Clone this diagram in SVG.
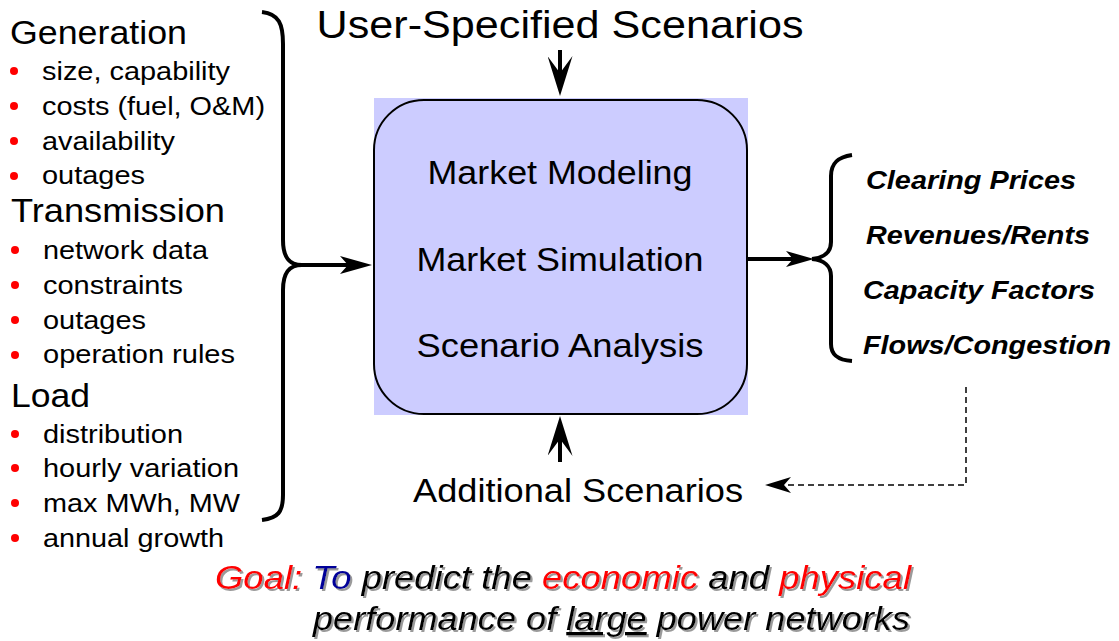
<svg xmlns="http://www.w3.org/2000/svg" width="1119" height="641" viewBox="0 0 1119 641">
<style>
text{font-family:"Liberation Sans",Arial,sans-serif;fill:#000}
.h{font-size:33px}
.it{font-size:25px}
.bx{font-size:33px}
.out{font-size:25px;font-weight:bold;font-style:italic}
.goal{font-size:33px;font-style:italic}
.red{fill:#ff0000}
.blue{fill:#000099}
.bul{fill:#ff0000}
.ln{fill:none;stroke:#000;stroke-width:4}
</style>
<defs>
<marker id="ah" viewBox="0 0 32 18" refX="8" refY="9" markerWidth="32" markerHeight="18" markerUnits="userSpaceOnUse" orient="auto"><path d="M0,0 L32,9 L0,18 L8,9 Z" fill="#000"/></marker>
<marker id="ahr" viewBox="0 0 28 16" refX="7" refY="8" markerWidth="28" markerHeight="16" markerUnits="userSpaceOnUse" orient="auto"><path d="M0,0 L28,8 L0,16 L7,8 Z" fill="#000"/></marker>
<marker id="av" viewBox="0 0 40 25" refX="17" refY="12.5" markerWidth="40" markerHeight="25" markerUnits="userSpaceOnUse" orient="auto"><path d="M0,0 L40,12.5 L0,25 L17,12.5 Z" fill="#000"/></marker>
<marker id="ad" viewBox="0 0 26 16" refX="7" refY="8" markerWidth="26" markerHeight="16" markerUnits="userSpaceOnUse" orient="auto"><path d="M0,0 L26,8 L0,16 L7,8 Z" fill="#000"/></marker>
<filter id="sh" x="-5%" y="-20%" width="110%" height="140%"><feDropShadow dx="2" dy="2" stdDeviation="0.4" flood-color="#9a9a9a" flood-opacity="1"/></filter>
</defs>

<g id="inputs">
<text class="h" x="10" y="44" textLength="177" lengthAdjust="spacingAndGlyphs">Generation</text>
<circle class="bul" cx="14" cy="71" r="4"/><text class="it" x="42" y="80" textLength="188" lengthAdjust="spacingAndGlyphs">size, capability</text>
<circle class="bul" cx="14" cy="106" r="4"/><text class="it" x="42" y="115" textLength="223" lengthAdjust="spacingAndGlyphs">costs (fuel, O&amp;M)</text>
<circle class="bul" cx="14" cy="141" r="4"/><text class="it" x="42" y="150" textLength="133" lengthAdjust="spacingAndGlyphs">availability</text>
<circle class="bul" cx="14" cy="176" r="4"/><text class="it" x="42" y="184" textLength="103" lengthAdjust="spacingAndGlyphs">outages</text>
<text class="h" x="11" y="222" textLength="214" lengthAdjust="spacingAndGlyphs">Transmission</text>
<circle class="bul" cx="15" cy="250" r="4"/><text class="it" x="43" y="259" textLength="165" lengthAdjust="spacingAndGlyphs">network data</text>
<circle class="bul" cx="15" cy="285" r="4"/><text class="it" x="43" y="294" textLength="140" lengthAdjust="spacingAndGlyphs">constraints</text>
<circle class="bul" cx="15" cy="320" r="4"/><text class="it" x="43" y="329" textLength="103" lengthAdjust="spacingAndGlyphs">outages</text>
<circle class="bul" cx="15" cy="355" r="4"/><text class="it" x="43" y="363" textLength="192" lengthAdjust="spacingAndGlyphs">operation rules</text>
<text class="h" x="11" y="407" textLength="79" lengthAdjust="spacingAndGlyphs">Load</text>
<circle class="bul" cx="15" cy="434" r="4"/><text class="it" x="43" y="443" textLength="140" lengthAdjust="spacingAndGlyphs">distribution</text>
<circle class="bul" cx="15" cy="468" r="4"/><text class="it" x="43" y="477" textLength="196" lengthAdjust="spacingAndGlyphs">hourly variation</text>
<circle class="bul" cx="15" cy="503" r="4"/><text class="it" x="43" y="512" textLength="197" lengthAdjust="spacingAndGlyphs">max MWh, MW</text>
<circle class="bul" cx="15" cy="538" r="4"/><text class="it" x="43" y="547" textLength="181" lengthAdjust="spacingAndGlyphs">annual growth</text>
</g>

<g id="user-scenarios">
<text x="560" y="38" text-anchor="middle" style="font-size:39px" textLength="487" lengthAdjust="spacingAndGlyphs">User-Specified Scenarios</text>
</g>

<g id="market-box">
<rect x="374" y="98" width="374" height="317" fill="#ccccff"/>
<rect x="374" y="100" width="373" height="314" rx="50" ry="50" fill="#ccccff" stroke="#000" stroke-width="2"/>
<text class="bx" x="560" y="184" text-anchor="middle" textLength="265" lengthAdjust="spacingAndGlyphs">Market Modeling</text>
<text class="bx" x="560" y="271" text-anchor="middle" textLength="287" lengthAdjust="spacingAndGlyphs">Market Simulation</text>
<text class="bx" x="560" y="357" text-anchor="middle" textLength="287" lengthAdjust="spacingAndGlyphs">Scenario Analysis</text>
</g>

<g id="additional-scenarios">
<text x="578" y="502" text-anchor="middle" style="font-size:33px" textLength="330" lengthAdjust="spacingAndGlyphs">Additional Scenarios</text>
</g>

<g id="outputs">
<text class="out" x="866" y="189" textLength="210" lengthAdjust="spacingAndGlyphs">Clearing Prices</text>
<text class="out" x="866" y="244" textLength="224" lengthAdjust="spacingAndGlyphs">Revenues/Rents</text>
<text class="out" x="863" y="299" textLength="232" lengthAdjust="spacingAndGlyphs">Capacity Factors</text>
<text class="out" x="863" y="354" textLength="248" lengthAdjust="spacingAndGlyphs">Flows/Congestion</text>
</g>

<g id="goal" filter="url(#sh)">
<text class="goal" x="215" y="589" textLength="696" lengthAdjust="spacingAndGlyphs"><tspan class="red">Goal:</tspan> <tspan class="blue">To</tspan> predict the <tspan class="red">economic</tspan> and <tspan class="red">physical</tspan></text>
<text class="goal" x="313" y="630" textLength="597" lengthAdjust="spacingAndGlyphs">performance of <tspan text-decoration="underline">large</tspan> power networks</text>
</g>

<g id="connectors">
<path class="ln" d="M262,12 C279,14 283,24 283,44 L283,240 C283,257 289,265 302,265 C289,265 283,273 283,290 L283,495 C283,512 278,518 262,520"/>
<path class="ln" d="M852,155 C838,157 831,163 831,176 L831,242 C831,252 824,258 812,259 C824,260 831,266 831,276 L831,344 C831,355 838,360 852,361"/>
<line class="ln" x1="300" y1="265" x2="348" y2="265" marker-end="url(#ah)"/>
<line class="ln" x1="748" y1="259" x2="793" y2="259" marker-end="url(#ahr)"/>
<line class="ln" x1="560" y1="50" x2="560" y2="73" marker-end="url(#av)"/>
<line class="ln" x1="560" y1="462" x2="560" y2="439" marker-end="url(#av)"/>
<path d="M966,387 L966,485 L784,485" fill="none" stroke="#000" stroke-width="1.5" stroke-dasharray="6,4" marker-end="url(#ad)"/>
</g>
</svg>
